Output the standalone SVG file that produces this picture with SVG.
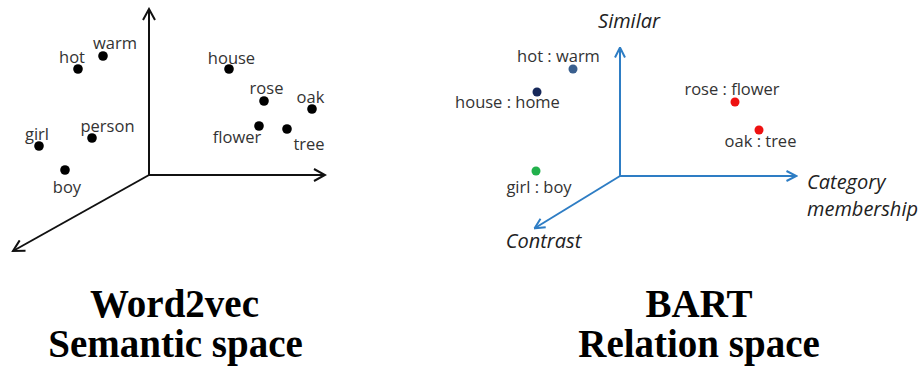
<svg xmlns="http://www.w3.org/2000/svg" width="924" height="368" viewBox="0 0 924 368">
  <style>
    .lbl { font-family: "Open Sans", "Liberation Sans", sans-serif; font-size: 16.5px; fill: #333333; text-anchor: middle; }
    .ax { font-family: "Open Sans", "Liberation Sans", sans-serif; font-size: 20px; font-style: italic; fill: #222222; }
    .title { font-family: "Liberation Serif", "Times New Roman", serif; font-size: 39px; font-weight: bold; fill: #000000; text-anchor: middle; }
    .axis-k { stroke: #111111; stroke-width: 2; fill: none; }
    .axis-b { stroke: #2e7dc4; stroke-width: 2; fill: none; }
    .dot { fill: #000000; }
  </style>
  <defs>
    <marker id="arrK" viewBox="0 0 14 14" refX="12" refY="7" markerWidth="14" markerHeight="14" markerUnits="userSpaceOnUse" orient="auto">
      <polyline points="1,1 12,7 1,13" fill="none" stroke="#111111" stroke-width="2"/>
    </marker>
    <marker id="arrB" viewBox="0 0 12 12" refX="10.5" refY="6" markerWidth="12" markerHeight="12" markerUnits="userSpaceOnUse" orient="auto">
      <path d="M1,1 L11,6 L1,11" fill="none" stroke="#2e7dc4" stroke-width="2"/>
    </marker>
  </defs>

  <!-- Word2vec semantic space: axes -->
  <g id="connectors">
    <line class="axis-k" x1="149" y1="175" x2="149" y2="9" marker-end="url(#arrK)"/>
    <line class="axis-k" x1="149" y1="175" x2="325" y2="175" marker-end="url(#arrK)"/>
    <line class="axis-k" x1="149" y1="175" x2="13" y2="251" marker-end="url(#arrK)"/>
    <!-- BART relation space: axes -->
    <line class="axis-b" x1="620" y1="176" x2="620" y2="48" marker-end="url(#arrB)"/>
    <line class="axis-b" x1="620" y1="176" x2="796" y2="176" marker-end="url(#arrB)"/>
    <line class="axis-b" x1="620" y1="176" x2="535" y2="228" marker-end="url(#arrB)"/>
  </g>

  <!-- word points -->
  <g id="w-warm"><circle class="dot" cx="103" cy="56" r="4.8"/><text class="lbl" x="115" y="49">warm</text></g>
  <g id="w-hot"><circle class="dot" cx="78" cy="69" r="4.8"/><text class="lbl" x="72" y="63">hot</text></g>
  <g id="w-girl"><circle class="dot" cx="39" cy="146" r="4.8"/><text class="lbl" x="37" y="140">girl</text></g>
  <g id="w-person"><circle class="dot" cx="92" cy="138" r="4.8"/><text class="lbl" x="107.5" y="132">person</text></g>
  <g id="w-boy"><circle class="dot" cx="65" cy="170" r="4.8"/><text class="lbl" x="67" y="193">boy</text></g>
  <g id="w-house"><circle class="dot" cx="229" cy="69" r="4.8"/><text class="lbl" x="231.5" y="64">house</text></g>
  <g id="w-rose"><circle class="dot" cx="264" cy="101" r="4.8"/><text class="lbl" x="266.5" y="94">rose</text></g>
  <g id="w-oak"><circle class="dot" cx="312" cy="109" r="4.8"/><text class="lbl" x="310.5" y="103">oak</text></g>
  <g id="w-flower"><circle class="dot" cx="259" cy="126" r="4.8"/><text class="lbl" x="237" y="143">flower</text></g>
  <g id="w-tree"><circle class="dot" cx="287" cy="129" r="4.8"/><text class="lbl" x="309" y="150">tree</text></g>

  <!-- relation points -->
  <g id="r-hot-warm"><circle cx="573" cy="69" r="4.5" fill="#3a5f8e"/><text class="lbl" x="558.5" y="62">hot : warm</text></g>
  <g id="r-house-home"><circle cx="537" cy="92" r="4.5" fill="#16285a"/><text class="lbl" x="507.5" y="108">house : home</text></g>
  <g id="r-rose-flower"><circle cx="735" cy="102" r="4.5" fill="#ee1111"/><text class="lbl" x="732" y="95">rose : flower</text></g>
  <g id="r-oak-tree"><circle cx="759" cy="130" r="4.5" fill="#ee1111"/><text class="lbl" x="760.5" y="147">oak : tree</text></g>
  <g id="r-girl-boy"><circle cx="536" cy="171" r="4.5" fill="#22b14c"/><text class="lbl" x="539" y="193">girl : boy</text></g>

  <!-- axis names -->
  <g id="axis-similar"><text class="ax" x="629" y="28" text-anchor="middle">Similar</text></g>
  <g id="axis-category"><text class="ax" x="807" y="189">Category</text><text class="ax" x="807" y="216">membership</text></g>
  <g id="axis-contrast"><text class="ax" x="543.5" y="248" text-anchor="middle">Contrast</text></g>

  <!-- captions -->
  <g id="title-left"><text class="title" x="174.5" y="317">Word2vec</text><text class="title" x="175.5" y="357">Semantic space</text></g>
  <g id="title-right"><text class="title" x="699" y="317">BART</text><text class="title" x="699" y="357">Relation space</text></g>
</svg>
